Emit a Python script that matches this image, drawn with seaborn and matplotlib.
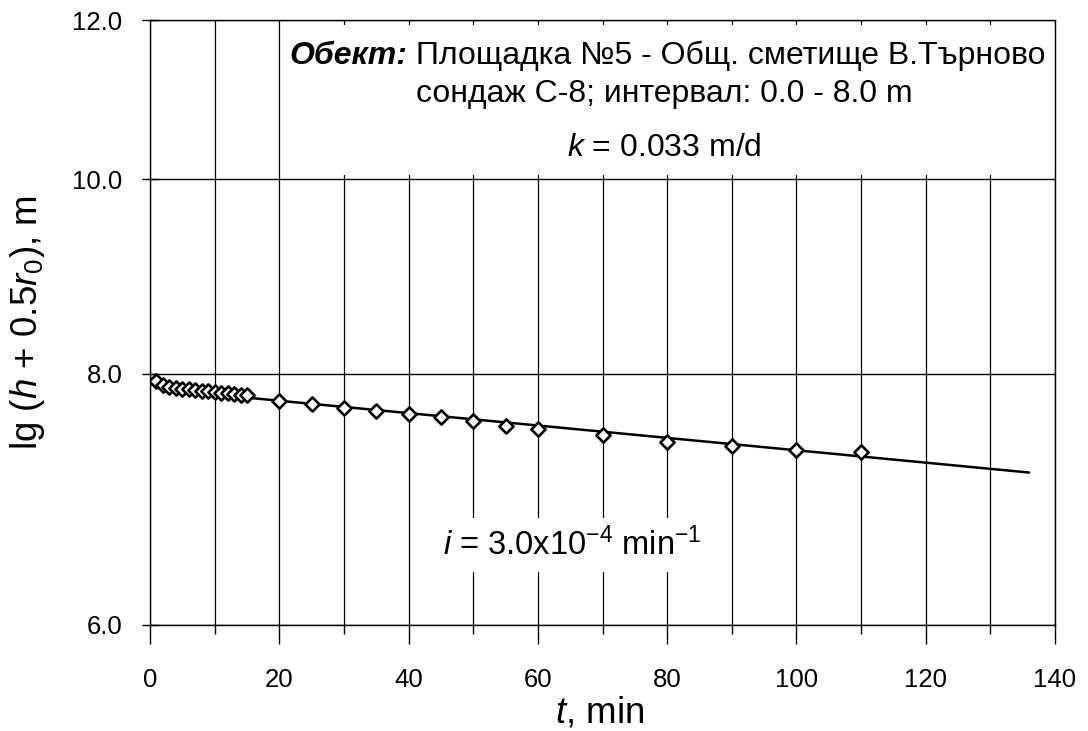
import matplotlib
matplotlib.use('Agg')
import matplotlib.pyplot as plt
import matplotlib.ticker as mticker
from matplotlib.patches import Rectangle
import seaborn as sns

# pumping-out test data
t_min = [1, 2, 3, 4, 5, 6, 7, 8, 9, 10, 11, 12, 13, 14, 15,
         20, 25, 30, 35, 40, 45, 50, 55, 60, 70, 80, 90, 100, 110]
h_val = [7.934, 7.902, 7.884, 7.875, 7.866, 7.860, 7.853, 7.848, 7.842, 7.836,
         7.830, 7.824, 7.818, 7.812, 7.806,
         7.754, 7.729, 7.694, 7.666, 7.641, 7.611, 7.576, 7.539, 7.509,
         7.461, 7.402, 7.362, 7.334, 7.317]

# straight-line fit (ends)
fit_t = [10, 136]
fit_h = [7.813, 7.145]

y_ticks = [6, 8, 10, 12]

sns.set_theme(style='ticks')
plt.rcParams['font.family'] = ['Liberation Sans', 'DejaVu Sans']
plt.rcParams['text.color'] = 'black'
plt.rcParams['axes.labelcolor'] = 'black'
plt.rcParams['mathtext.fontset'] = 'custom'
plt.rcParams['mathtext.rm'] = 'Liberation Sans'
plt.rcParams['mathtext.it'] = 'Liberation Sans:italic'
plt.rcParams['mathtext.bf'] = 'Liberation Sans:bold'

fig = plt.figure(figsize=(10.88, 7.31), dpi=100)
ax = fig.add_axes([150 / 1088, 106 / 731, 905 / 1088, 605 / 731])

sns.lineplot(x=fit_t, y=fit_h, color='black', linewidth=1.8, ax=ax, zorder=3)
sns.scatterplot(x=t_min, y=h_val, marker='D', s=52, facecolor='white',
                edgecolor='black', linewidth=1.9, ax=ax, zorder=4)

ax.set_yscale('log')
ax.set_xlim(0, 140)
ax.set_ylim(6, 12)
ax.yaxis.set_major_locator(mticker.FixedLocator(y_ticks))
ax.yaxis.set_major_formatter(mticker.FormatStrFormatter('%.1f'))
ax.yaxis.set_minor_locator(mticker.NullLocator())
ax.xaxis.set_major_locator(mticker.MultipleLocator(20))
ax.xaxis.set_minor_locator(mticker.MultipleLocator(10))

ax.set_axisbelow(True)
ax.grid(which='major', axis='y', color='black', linewidth=1)
ax.grid(which='both', axis='x', color='black', linewidth=0.9)

for sp in ax.spines.values():
    sp.set_color('black')
    sp.set_linewidth(1)

ax.tick_params(axis='y', which='major', direction='inout', length=11.5, width=1,
               pad=14, labelsize=18.5, colors='black')
ax.tick_params(axis='x', which='major', direction='out', length=13.7, width=1,
               pad=17.5, labelsize=18.5, colors='black')
ax.tick_params(axis='x', which='minor', direction='out', length=6.5, width=1,
               colors='black')

ax.set_xlabel(r'$\mathit{t}$, min', fontsize=26.5)
ax.set_ylabel(r'lg ($\mathit{h}$ + 0.5$\mathit{r}_0$), m', fontsize=26.5)
ax.xaxis.set_label_coords(0.497, -0.117)
ax.yaxis.set_label_coords(-0.114, 0.5)

# white panel behind the header text
ax.add_patch(Rectangle((0.145, 0.744), 0.855, 0.247, transform=ax.transAxes,
                       facecolor='white', edgecolor='none', zorder=1))

t1 = ax.text(0.2, 0.940, 'Обект:', transform=ax.transAxes, ha='left',
             va='center', fontsize=23, fontweight='bold', fontstyle='italic',
             zorder=5)
t2 = ax.annotate(' Площадка №5 - Общ. сметище В.Търново', xy=(1, 0),
                 xycoords=t1, ha='left', va='bottom', fontsize=23, zorder=5)
ax.text(0.568, 0.878, 'сондаж С-8; интервал: 0.0 - 8.0 m',
        transform=ax.transAxes, ha='center', va='center', fontsize=23, zorder=5)
ax.text(0.568, 0.788, r'$\mathit{k}$ = 0.033 m/d',
        transform=ax.transAxes, ha='center', va='center', fontsize=23, zorder=5)

ax.text(0.467, 0.132, r'$\mathit{i}$ = 3.0x10$^{-4}$ min$^{-1}$',
        transform=ax.transAxes, ha='center', va='center', fontsize=23.5, zorder=5,
        bbox=dict(boxstyle='square,pad=0.3', facecolor='white', edgecolor='none'))

# centre the two-part first header line
fig.canvas.draw()
w = t1.get_window_extent().width + t2.get_window_extent().width
x_left = ax.transAxes.transform((0.572, 0))[0] - w / 2
t1.set_x(ax.transAxes.inverted().transform((x_left, 0))[0])

fig.savefig('out.png', dpi=100)
